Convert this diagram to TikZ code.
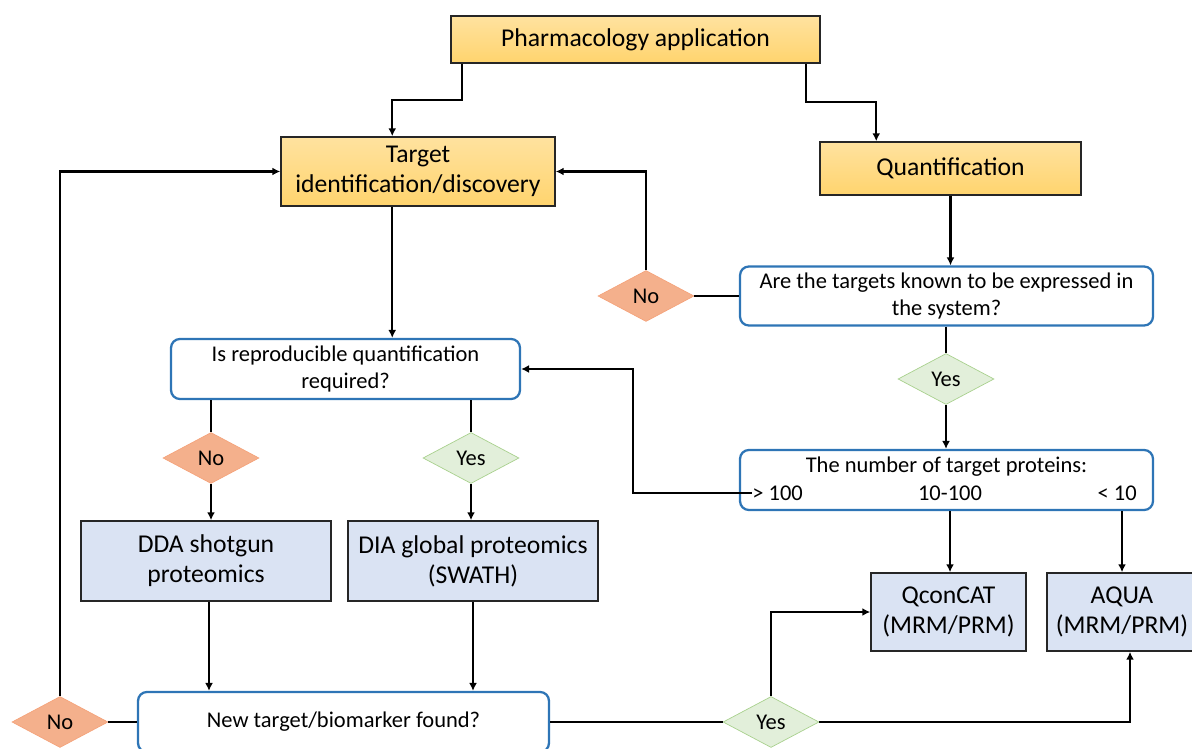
\documentclass[tikz,border=0pt]{standalone}
\usepackage{fontspec}
\setmainfont{Carlito}
\usetikzlibrary{shapes.geometric, arrows.meta, calc}
\definecolor{orgtop}{HTML}{FFE29F}
\definecolor{orgbot}{HTML}{FFD46E}
\definecolor{askblue}{HTML}{2E75B6}
\definecolor{methfill}{HTML}{DAE3F3}
\definecolor{nofill}{HTML}{F4B08C}
\definecolor{noline}{HTML}{F4A47C}
\definecolor{yesfill}{HTML}{E2EFDA}
\definecolor{yesline}{HTML}{A9D18E}

\begin{document}
\begin{tikzpicture}[
  x=0.02cm, y=-0.02cm,
  stage/.style={rectangle, draw=black!85, line width=0.9pt, top color=orgtop, bottom color=orgbot, align=center, font=\fontsize{14.6}{17}\selectfont},
  ask/.style={rectangle, draw=askblue, line width=1.3pt, rounded corners=5pt, fill=white, align=center, font=\fontsize{12.8}{15.5}\selectfont},
  method/.style={rectangle, draw=black!85, line width=0.9pt, fill=methfill, align=center, font=\fontsize{14.6}{17}\selectfont},
  nobox/.style={diamond, draw=noline, fill=nofill, inner sep=0pt, minimum width=1.92cm, minimum height=1.02cm, font=\fontsize{12.8}{14}\selectfont},
  yesbox/.style={diamond, draw=yesline, fill=yesfill, inner sep=0pt, minimum width=1.92cm, minimum height=1.02cm, font=\fontsize{12.8}{14}\selectfont},
  lbl/.style={inner sep=0pt, font=\fontsize{12.8}{15}\selectfont},
  flow/.style={line width=1.25pt, -{Latex[length=4.5pt,width=4.5pt]}},
  link/.style={line width=1.25pt}
]
\useasboundingbox (0,0) rectangle (1192,749);

\node[stage, minimum width=7.38cm, minimum height=0.94cm] (pharm) at (635.5,39.5) {Pharmacology application};
\node[stage, minimum width=5.48cm, minimum height=1.38cm] (target) at (418,171.5) {Target\\identification/discovery};
\node[stage, minimum width=5.22cm, minimum height=1.06cm] (quant) at (950.5,168.5) {Quantification};

\node[ask, minimum width=8.26cm, minimum height=1.18cm] (known) at (946.5,296) {Are the targets known to be expressed in\\the system?};
\node[nobox] (nokn) at (646,296) {No};
\node[yesbox] (yeskn) at (946,379) {Yes};

\node[ask, minimum width=8.26cm, minimum height=1.2cm] (number) at (946.5,480) {};
\node[lbl] (ntitle) at (946.5,467) {The number of target proteins:};
\node[lbl, anchor=west] (gt) at (752,493) {> 100};
\node[lbl] (mid) at (950,493) {10-100};
\node[lbl, anchor=east] (lt) at (1137,493) {< 10};

\node[ask, minimum width=6.98cm, minimum height=1.2cm] (repro) at (345.5,369) {Is reproducible quantification\\required?};
\node[nobox] (norep) at (211,458) {No};
\node[yesbox] (yesrep) at (471,458) {Yes};

\node[method, minimum width=5.0cm, minimum height=1.6cm] (dda) at (206,561) {DDA shotgun\\proteomics};
\node[method, minimum width=5.0cm, minimum height=1.6cm] (dia) at (473,561) {DIA global proteomics\\(SWATH)};
\node[method, minimum width=3.1cm, minimum height=1.56cm] (qcon) at (948.5,612) {QconCAT\\(MRM/PRM)};
\node[method, minimum width=3.0cm, minimum height=1.56cm] (aqua) at (1122,612) {AQUA\\(MRM/PRM)};

\node[ask, minimum width=8.22cm, minimum height=1.2cm] (found) at (343.5,722) {New target/biomarker found?};
\node[nobox] (nofound) at (60,722) {No};
\node[yesbox] (yesfound) at (771,722) {Yes};

% top branches
\draw[flow] ($(pharm.south west)+(12,0)$) -- ++(0,36) -| ($(target.north west)+(112,0)$);
\draw[flow] ($(pharm.south east)+(-15,0)$) -- ++(0,38) -| ($(quant.north west)+(57,0)$);

% quantification side
\draw[flow] (quant.south) -- (quant.south |- known.north);
\draw[link] (known.west) -- (nokn.east);
\draw[flow] (nokn.north) |- (target.east);
\draw[link] (yeskn.north |- known.south) -- (yeskn.north);
\draw[flow] (yeskn.south) -- (yeskn.south |- number.north);
\draw[flow] (gt.west) -- ++(-119,0) |- (repro.east);
\draw[flow] (mid.south |- number.south) -- (mid.south |- qcon.north);
\coordinate (ltx) at ($(lt.south east)+(-15,0)$);
\draw[flow] (ltx |- number.south) -- (ltx |- aqua.north);

% discovery side
\coordinate (tgx) at ($(target.south west)+(112,0)$);
\draw[flow] (tgx) -- (tgx |- repro.north);
\draw[link] (norep.north |- repro.south) -- (norep.north);
\draw[flow] (norep.south) -- (norep.south |- dda.north);
\draw[link] (yesrep.north |- repro.south) -- (yesrep.north);
\draw[flow] (yesrep.south) -- (yesrep.south |- dia.north);
\coordinate (ddax) at ($(dda.south)+(3,0)$);
\draw[flow] (ddax) -- (ddax |- found.north);
\draw[flow] (dia.south) -- (dia.south |- found.north);

% found?
\draw[link] (found.west) -- (nofound.east);
\draw[flow] (nofound.north) |- (target.west);
\draw[link] (found.east) -- (yesfound.west);
\draw[flow] (yesfound.north) |- (qcon.west);
\draw[flow] (yesfound.east) -| ($(aqua.south)+(8,0)$);
\end{tikzpicture}
\end{document}
